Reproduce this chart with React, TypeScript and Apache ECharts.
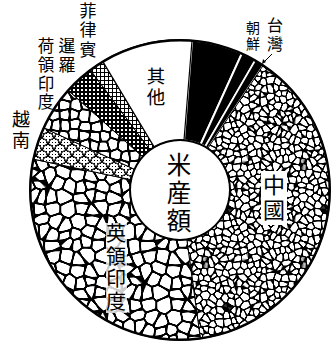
import React, { useEffect, useRef } from "react";
import * as echarts from "echarts";

// Rice production shares (percent of total)
const categories = ["日本", "朝鮮", "台灣", "中國", "英領印度", "越南", "荷領印度", "暹羅", "菲律賓", "其他"];
const shares = [5.5, 1.6, 1.0, 38.5, 30.5, 3.5, 4.8, 3.2, 1.6, 9.9];
const centerTitle = "米産額";

function rng(seed: number) {
  let s = seed >>> 0;
  return () => {
    s = (Math.imul(s, 1664525) + 1013904223) >>> 0;
    return s / 4294967296;
  };
}

function mk(S: number) {
  const c = document.createElement("canvas");
  c.width = S;
  c.height = S;
  return c;
}

function cells(S: number, n: number, w: number, seed: number, jit: number) {
  const c = mk(S);
  const ctx = c.getContext("2d")!;
  const r = rng(seed);
  const pts: number[][] = [];
  const step = S / n;
  for (let i = 0; i < n; i++)
    for (let j = 0; j < n; j++)
      pts.push([(i + 0.5 + (r() - 0.5) * jit) * step, (j + 0.5 + (r() - 0.5) * jit) * step]);
  const img = ctx.createImageData(S, S);
  for (let y = 0; y < S; y++) {
    for (let x = 0; x < S; x++) {
      let d1 = 1e9, d2 = 1e9;
      for (const p of pts) {
        let dx = Math.abs(x + 0.5 - p[0]);
        let dy = Math.abs(y + 0.5 - p[1]);
        if (dx > S / 2) dx = S - dx;
        if (dy > S / 2) dy = S - dy;
        const d = Math.sqrt(dx * dx + dy * dy);
        if (d < d1) { d2 = d1; d1 = d; } else if (d < d2) d2 = d;
      }
      const diff = d2 - d1;
      let a = (w - diff) + 0.5;
      a = Math.max(0, Math.min(1, a));
      const v = Math.round(255 * (1 - a));
      const k = (y * S + x) * 4;
      img.data[k] = v; img.data[k + 1] = v; img.data[k + 2] = v; img.data[k + 3] = 255;
    }
  }
  ctx.putImageData(img, 0, 0);
  return c;
}

function siamTex() {
  const c = mk(4);
  const ctx = c.getContext("2d")!;
  ctx.fillStyle = "#000";
  ctx.fillRect(0, 0, 4, 4);
  ctx.fillStyle = "#fff";
  ctx.fillRect(1, 1, 2, 2);
  return c;
}

function gridTex() {
  const c = mk(4);
  const ctx = c.getContext("2d")!;
  ctx.fillStyle = "#fff";
  ctx.fillRect(0, 0, 4, 4);
  ctx.fillStyle = "#000";
  ctx.fillRect(0, 0, 4, 1);
  ctx.fillRect(0, 0, 1, 4);
  return c;
}

function scaleTex() {
  const S = 12;
  const c = mk(S);
  const ctx = c.getContext("2d")!;
  ctx.fillStyle = "#fff";
  ctx.fillRect(0, 0, S, S);
  ctx.strokeStyle = "#000";
  ctx.lineWidth = 1.2;
  for (const [cx, cy] of [[0, 6], [12, 6], [6, 12], [6, 0], [0, 18], [12, 18]]) {
    ctx.beginPath();
    ctx.arc(cx, cy, 5.5, Math.PI, 2 * Math.PI);
    ctx.stroke();
  }
  ctx.fillStyle = "#000";
  for (let y = 1; y < S; y += 3)
    for (let x = 1; x < S; x += 3) ctx.fillRect(x, y, 1, 1);
  return c;
}

function pat(c: HTMLCanvasElement) {
  return { image: c, repeat: "repeat", imageWidth: c.width, imageHeight: c.height } as any;
}

export default function App() {
  const ref = useRef<HTMLDivElement>(null);
  useEffect(() => {
    if (!ref.current) return;
    const chart = echarts.init(ref.current, null, { renderer: "svg" });
    const china = cells(98, 15, 1.35, 7, 0.95);
    const india = cells(96, 8, 2.0, 11, 0.8);
    const dutch = cells(100, 10, 2.0, 23, 0.5);
    const itemStyles: any[] = [
      { color: "#000", borderColor: "#fff", borderWidth: 2 },
      { color: "#000", borderColor: "#fff", borderWidth: 2 },
      { color: "#000", borderColor: "#fff", borderWidth: 1.5 },
      { color: pat(china), borderColor: "#000", borderWidth: 1 },
      { color: pat(india), borderColor: "#000", borderWidth: 1 },
      { color: pat(scaleTex()), borderColor: "#000", borderWidth: 1 },
      { color: pat(dutch), borderColor: "#000", borderWidth: 1 },
      { color: pat(siamTex()), borderColor: "#000", borderWidth: 1 },
      { color: pat(gridTex()), borderColor: "#000", borderWidth: 1 },
      { color: "#fff", borderColor: "#000", borderWidth: 1.2 },
    ];
    const font = '"Liberation Sans", "Noto Sans CJK JP", "Noto Sans CJK SC", sans-serif';
    const vtext = (t: string, x: number, y: number, size: number, lh: number, extra: any = {}) => ({
      type: "text",
      silent: true,
      z: 10,
      style: {
        text: t.split("").join("\n"),
        x,
        y,
        fill: "#000",
        fontSize: size,
        fontFamily: font,
        lineHeight: lh,
        align: "center",
        verticalAlign: "top",
        textAlign: "center",
        textVerticalAlign: "top",
        ...extra,
      },
    });
    chart.setOption({
      animation: false,
      backgroundColor: "#fff",
      series: [
        {
          type: "pie",
          center: [180, 190],
          radius: [50, 150],
          startAngle: 85.4,
          clockwise: true,
          silent: true,
          avoidLabelOverlap: false,
          label: { show: false },
          labelLine: { show: false },
          data: categories.map((name, i) => ({ name, value: shares[i], itemStyle: itemStyles[i] })),
        },
        {
          type: "pie",
          center: [180, 190],
          radius: [148.5, 151],
          silent: true,
          label: { show: false },
          labelLine: { show: false },
          itemStyle: { color: "#000", borderWidth: 0 },
          data: [{ name: "outer", value: 1 }],
        },
        {
          type: "pie",
          center: [180, 190],
          radius: [49, 51],
          silent: true,
          label: { show: false },
          labelLine: { show: false },
          itemStyle: { color: "#000", borderWidth: 0 },
          data: [{ name: "inner", value: 1 }],
        },
      ],
      graphic: [
        {
          type: "rect",
          silent: true,
          z: 9,
          shape: { x: 261, y: 171, width: 26, height: 54 },
          style: { fill: "#fff" },
        },
        {
          type: "rect",
          silent: true,
          z: 9,
          shape: { x: 106, y: 223, width: 21, height: 90 },
          style: { fill: "rgba(255,255,255,0.8)" },
        },
        vtext(centerTitle, 179, 151, 24.5, 28),
        vtext("其他", 156, 66, 18.5, 21),
        vtext("中國", 274, 173, 22, 25),
        vtext("英領印度", 116, 223, 20, 22.5),
        vtext("菲律賓", 88, 2, 17, 19.2),
        vtext("暹羅", 67, 37, 17, 19.2),
        vtext("荷領印度", 46, 37, 16.5, 18.6),
        vtext("越南", 21, 109, 18, 21),
        vtext("朝鮮", 253, 20, 14, 16),
        vtext("台灣", 275, 16, 16, 19),
        {
          type: "polyline",
          silent: true,
          z: 10,
          shape: { points: [[272, 54], [263, 63]] },
          style: { stroke: "#000", lineWidth: 1 },
        },
        {
          type: "polygon",
          silent: true,
          z: 10,
          shape: { points: [[262, 64], [263, 59], [266, 62]] },
          style: { fill: "#000" },
        },
      ],
    } as any);
    return () => chart.dispose();
  }, []);
  return (
    <div
      ref={ref}
      style={{ position: "fixed", left: 0, top: 0, width: 334, height: 342, background: "#fff" }}
    />
  );
}
